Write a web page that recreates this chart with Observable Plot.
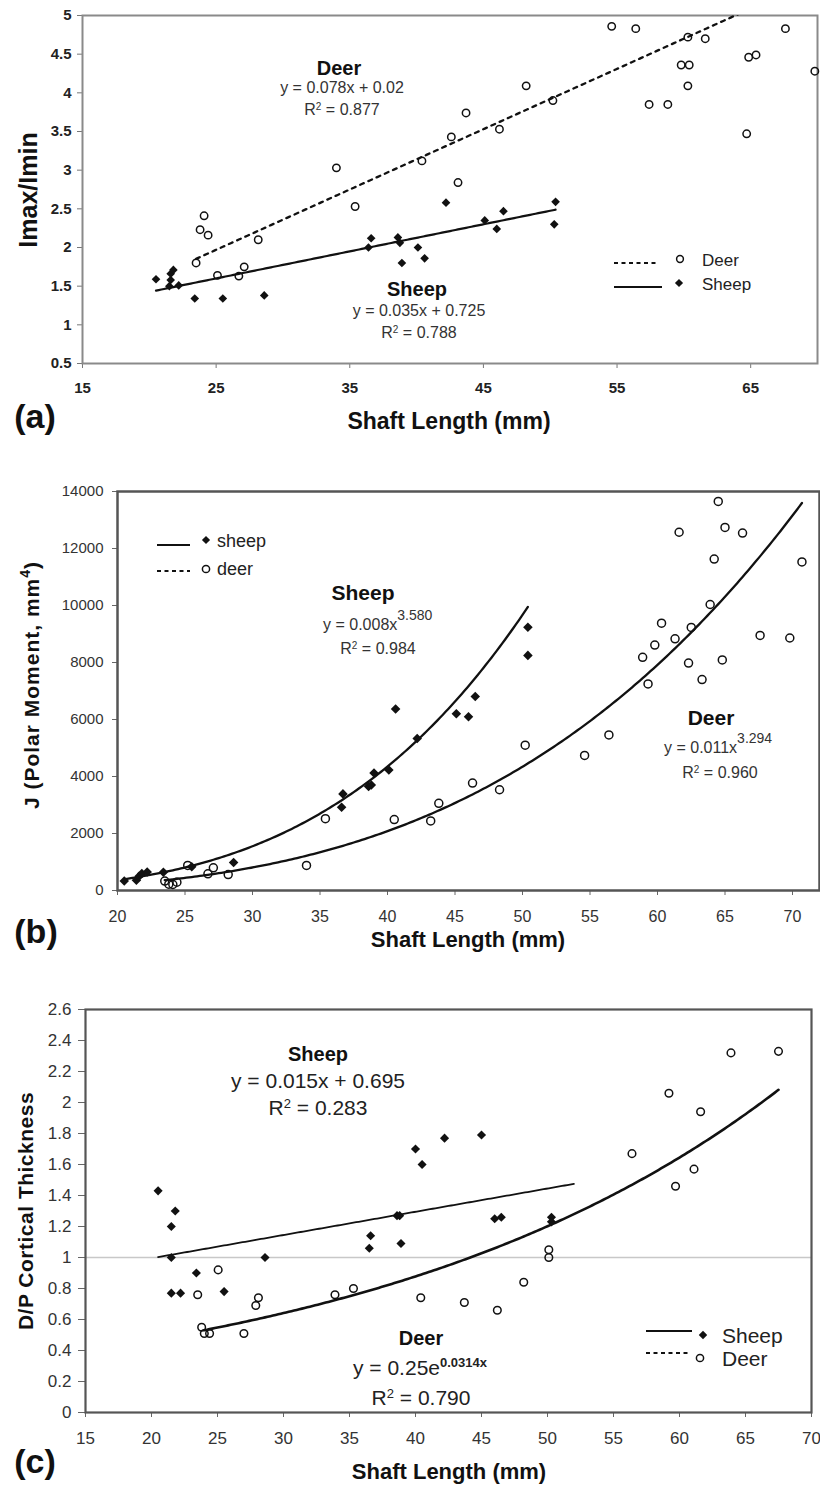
<!DOCTYPE html>
<html><head><meta charset="utf-8">
<script src="https://cdn.jsdelivr.net/npm/d3@7"></script>
<script src="https://cdn.jsdelivr.net/npm/@observablehq/plot@0.6"></script>
<style>
html,body{margin:0;padding:0;background:#fff;}
#fig{position:relative;width:820px;height:1486px;overflow:hidden;font-family:"Liberation Sans",Arial,Helvetica,sans-serif;color:#111;}
#fig svg{position:absolute;left:0;}
.t{position:absolute;white-space:nowrap;line-height:1;}
.sp{position:relative;}
</style></head><body><div id="fig"></div>
<script>
// ---------- Panel (a): Imax/Imin ----------
const deerA_x = [23.5,23.8,24.1,24.4,25.1,26.7,27.1,28.15,34.0,35.4,40.4,42.6,43.1,43.7,46.2,48.2,50.2,54.6,56.4,57.4,58.8,59.8,60.4,60.3,60.3,61.6,64.7,64.85,65.4,67.6,69.8];
const deerA_y = [1.80,2.23,2.41,2.16,1.64,1.63,1.75,2.10,3.03,2.53,3.12,3.43,2.84,3.74,3.53,4.09,3.90,4.86,4.83,3.85,3.85,4.36,4.36,4.72,4.09,4.70,3.47,4.46,4.49,4.83,4.28];
const sheepA_x = [20.5,21.5,21.6,21.6,21.8,22.2,23.4,25.5,28.6,36.4,36.6,38.6,38.75,38.9,40.1,40.6,42.2,45.1,46.0,46.5,50.4,50.3];
const sheepA_y = [1.59,1.50,1.58,1.66,1.71,1.51,1.34,1.34,1.38,2.00,2.12,2.13,2.06,1.80,2.00,1.86,2.58,2.35,2.24,2.47,2.59,2.30];
const fitA_deer = [0.078, 0.02];      // y = a x + b
const fitA_sheep = [0.035, 0.725];
const spanA_deer = [23.5, 69.8];
const spanA_sheep = [20.5, 50.4];
const xTicksA = [15,25,35,45,55,65];
const yTicksA = [0.5,1,1.5,2,2.5,3,3.5,4,4.5,5];

// ---------- Panel (b): J ----------
const deerB_x = [23.5,23.8,24.1,24.4,25.2,26.7,27.1,28.2,34.0,35.4,40.5,43.2,43.8,46.3,48.3,50.2,54.6,56.4,58.9,59.3,59.8,60.3,61.3,61.6,62.3,62.5,63.3,63.9,64.2,64.5,64.8,65.0,66.3,67.6,69.8,70.7];
const deerB_y = [330,220,210,290,880,585,795,560,880,2520,2490,2440,3060,3770,3535,5100,4740,5460,8180,7250,8610,9380,8830,12570,7980,9230,7400,10035,11630,13650,8090,12740,12540,8950,8860,11530];
const sheepB_x = [20.5,21.4,21.6,21.8,22.2,23.4,25.5,28.6,36.6,36.7,38.6,38.8,39.0,40.1,40.6,42.2,45.1,46.0,46.5,50.4,50.4];
const sheepB_y = [330,360,500,600,650,640,830,980,2920,3390,3650,3700,4120,4230,6370,5330,6200,6100,6810,9240,8250];
const fitB_sheep = [0.008, 3.580];    // y = a x^b
const fitB_deer = [0.011, 3.294];
const spanB_sheep = [20.5, 50.4];
const spanB_deer = [23.5, 70.7];
const xTicksB = [20,25,30,35,40,45,50,55,60,65,70];
const yTicksB = [0,2000,4000,6000,8000,10000,12000,14000];

// ---------- Panel (c): D/P cortical thickness ----------
const sheepC_x = [20.5,21.5,21.8,21.5,21.5,22.2,23.4,25.5,28.6,36.5,36.6,38.6,38.8,38.9,40.0,40.5,42.2,45.0,46.0,46.5,50.3,50.3];
const sheepC_y = [1.43,1.20,1.30,1.00,0.77,0.77,0.90,0.78,1.00,1.06,1.14,1.27,1.27,1.09,1.70,1.60,1.77,1.79,1.25,1.26,1.26,1.23];
const deerC_x = [23.5,23.8,24.0,24.4,25.05,27.0,27.9,28.1,33.9,35.3,40.4,43.7,46.2,48.2,50.1,50.1,56.4,59.2,59.7,61.1,61.6,63.9,67.5];
const deerC_y = [0.76,0.55,0.51,0.51,0.92,0.51,0.69,0.74,0.76,0.80,0.74,0.71,0.66,0.84,1.05,1.00,1.67,2.06,1.46,1.57,1.94,2.32,2.33];
const fitC_sheep = [0.015, 0.695];    // y = a x + b
const fitC_deer = [0.25, 0.0314];     // y = a e^(b x)
const spanC_sheep = [20.5, 52.0];
const spanC_deer = [24.0, 67.5];
const refC = [1];
const xTicksC = [15,20,25,30,35,40,45,50,55,60,65,70];
const yTicksC = [0,0.2,0.4,0.6,0.8,1,1.2,1.4,1.6,1.8,2,2.2,2.4,2.6];

// ---------- helpers ----------
const FONT = "'Liberation Sans', Arial, Helvetica, sans-serif";
const zip = (xs, ys) => xs.map((x, i) => ({x, y: ys[i]}));
const sample = (span, f) => {
  const xs = d3.range(span[0], span[1], 0.2).concat([span[1]]);
  return xs.map(x => ({x, y: f(x)}));
};
const linF = c => x => c[0] * x + c[1];
const powF = c => x => c[0] * Math.pow(x, c[1]);
const expF = c => x => c[0] * Math.exp(c[1] * x);
const fig = document.getElementById("fig");
function place(svg, top) { svg.style.top = top + "px"; fig.appendChild(svg); }
function txt(html, x, y, o = {}) {
  const d = document.createElement("div");
  d.className = "t";
  d.innerHTML = html;
  const size = o.size || 16;
  d.style.left = x + "px";
  d.style.top = y + "px";
  d.style.fontSize = size + "px";
  d.style.fontWeight = o.bold ? "bold" : "normal";
  d.style.color = o.color || "#222";
  if (o.ls) d.style.letterSpacing = o.ls + "px";
  const tx = o.anchor === "start" ? "0" : o.anchor === "end" ? "-100%" : "-50%";
  d.style.transform = `translate(${tx},-50%)` + (o.rotate ? " rotate(-90deg)" : "");
  fig.appendChild(d);
}
const sup = (s, size, up, bold) => `<span class="sp" style="font-size:${size}px;top:-${up}px;${bold ? "font-weight:bold;" : ""}">${s}</span>`;

const dotOpen = (data, r) => Plot.dot(data, {x: "x", y: "y", r, stroke: "#111", strokeWidth: 1.5, fill: "none"});
const dotDiamond = (data, r) => Plot.dot(data, {x: "x", y: "y", r, symbol: "diamond2", fill: "#111", stroke: "none"});

// ---------- Panel (a) ----------
const plotA = Plot.plot({
  width: 820, height: 400,
  marginTop: 15, marginBottom: 37, marginLeft: 82, marginRight: 3,
  x: {domain: [15, 70]}, y: {domain: [0.5, 5]},
  style: {background: "transparent", fontFamily: FONT, color: "#222", overflow: "visible"},
  marks: [
    Plot.axisX({ticks: xTicksA, tickSize: 5, tickPadding: 14, fontSize: 15, fontWeight: "bold", label: null, stroke: "#777", fill: "#222"}),
    Plot.axisY({ticks: yTicksA, tickSize: 5, tickPadding: 6, fontSize: 15, fontWeight: "bold", label: null, stroke: "#777", fill: "#222", tickFormat: d => String(d)}),
    Plot.frame({stroke: "#8a8a8a", strokeWidth: 2}),
    Plot.line(sample(spanA_deer, linF(fitA_deer)), {x: "x", y: "y", stroke: "#111", strokeWidth: 2.3, strokeDasharray: "4,5", clip: true}),
    Plot.line(sample(spanA_sheep, linF(fitA_sheep)), {x: "x", y: "y", stroke: "#111", strokeWidth: 2.2}),
    dotOpen(zip(deerA_x, deerA_y), 3.7),
    dotDiamond(zip(sheepA_x, sheepA_y), 3.9)
  ]
});
place(plotA, 0);

// ---------- Panel (b) ----------
const plotB = Plot.plot({
  width: 820, height: 470,
  marginTop: 21, marginBottom: 50, marginLeft: 117, marginRight: 1,
  x: {domain: [20, 72]}, y: {domain: [0, 14000]},
  style: {background: "transparent", fontFamily: FONT, color: "#222", overflow: "visible"},
  marks: [
    Plot.axisX({ticks: xTicksB, tickSize: 5, tickPadding: 15, fontSize: 16, label: null, stroke: "#666", fill: "#333"}),
    Plot.axisY({ticks: yTicksB, tickSize: 5, tickPadding: 9, fontSize: 15, label: null, stroke: "#666", fill: "#333", tickFormat: d => String(d)}),
    Plot.frame({stroke: "#555", strokeWidth: 2.5}),
    Plot.line(sample(spanB_sheep, powF(fitB_sheep)), {x: "x", y: "y", stroke: "#111", strokeWidth: 2.3}),
    Plot.line(sample(spanB_deer, powF(fitB_deer)), {x: "x", y: "y", stroke: "#111", strokeWidth: 2.3}),
    dotOpen(zip(deerB_x, deerB_y), 4),
    dotDiamond(zip(sheepB_x, sheepB_y), 4.3)
  ]
});
place(plotB, 470);

// ---------- Panel (c) ----------
const plotC = Plot.plot({
  width: 820, height: 470,
  marginTop: 19, marginBottom: 48, marginLeft: 85, marginRight: 9,
  x: {domain: [15, 70]}, y: {domain: [0, 2.6]},
  style: {background: "transparent", fontFamily: FONT, color: "#222", overflow: "visible"},
  marks: [
    Plot.ruleY(refC, {stroke: "#c8c8c8", strokeWidth: 1.5}),
    Plot.axisX({ticks: xTicksC, tickSize: 5, tickPadding: 14, fontSize: 17, label: null, stroke: "#666", fill: "#333"}),
    Plot.axisY({ticks: yTicksC, tickSize: 7, tickPadding: 7, fontSize: 17, label: null, stroke: "#666", fill: "#333", tickFormat: d => String(d)}),
    Plot.frame({stroke: "#555", strokeWidth: 2.2}),
    Plot.line(sample(spanC_sheep, linF(fitC_sheep)), {x: "x", y: "y", stroke: "#111", strokeWidth: 1.8}),
    Plot.line(sample(spanC_deer, expF(fitC_deer)), {x: "x", y: "y", stroke: "#111", strokeWidth: 2.6}),
    dotOpen(zip(deerC_x, deerC_y), 3.8),
    dotDiamond(zip(sheepC_x, sheepC_y), 4.1)
  ]
});
place(plotC, 990);

// ---------- Legends (overlay swatches) ----------
const ov = d3.select(fig).append("svg").attr("width", 820).attr("height", 1486).style("top", "0px").style("pointer-events", "none");
function swatch(x1, x2, yl, sx, sy, dashed, kind, r) {
  ov.append("line").attr("x1", x1).attr("x2", x2).attr("y1", yl).attr("y2", yl)
    .attr("stroke", "#111").attr("stroke-width", 2).attr("stroke-dasharray", dashed ? "4,3.5" : null);
  if (kind === "circle") ov.append("circle").attr("cx", sx).attr("cy", sy).attr("r", r).attr("fill", "none").attr("stroke", "#111").attr("stroke-width", 1.5);
  else ov.append("path").attr("d", d3.symbol(d3.symbolDiamond2, Math.PI * r * r)()).attr("transform", `translate(${sx},${sy})`).attr("fill", "#111");
}
swatch(614, 658, 263, 680, 259, true, "circle", 3.4);
swatch(614, 662, 287, 679, 283, false, "diamond", 3.7);
txt("Deer", 702, 260, {size: 17, anchor: "start"});
txt("Sheep", 702, 284, {size: 17, anchor: "start"});

swatch(157, 190, 545, 206, 540, false, "diamond", 3.7);
swatch(157, 190, 571, 206, 569, true, "circle", 3.6);
txt("sheep", 217, 541, {size: 18, anchor: "start"});
txt("deer", 217, 569, {size: 18, anchor: "start"});

swatch(646, 692, 1331, 703, 1335, false, "diamond", 3.8);
swatch(646, 690, 1353, 700, 1358, true, "circle", 3.6);
txt("Sheep", 722, 1335, {size: 21, anchor: "start"});
txt("Deer", 722, 1358, {size: 21, anchor: "start"});

// ---------- Annotations ----------
txt("Deer", 339, 68, {size: 20, bold: true, color: "#111"});
txt("y = 0.078x + 0.02", 342, 88, {size: 16, color: "#333"});
txt("R" + sup("2", 10, 5) + " = 0.877", 342, 110, {size: 16, color: "#333"});
txt("Sheep", 417, 289, {size: 20, bold: true, color: "#111"});
txt("y = 0.035x + 0.725", 419, 311, {size: 16, color: "#333"});
txt("R" + sup("2", 10, 5) + " = 0.788", 419, 333, {size: 16, color: "#333"});

txt("Sheep", 363, 592, {size: 21, bold: true, color: "#111"});
txt("y = 0.008x" + sup("3.580", 14, 10), 323, 625, {size: 16, anchor: "start", color: "#333"});
txt("R" + sup("2", 10, 5) + " = 0.984", 378, 649, {size: 16, color: "#333"});
txt("Deer", 711, 717, {size: 21, bold: true, color: "#111"});
txt("y = 0.011x" + sup("3.294", 14, 10), 664, 748, {size: 16, anchor: "start", color: "#333"});
txt("R" + sup("2", 10, 5) + " = 0.960", 720, 773, {size: 16, color: "#333"});

txt("Sheep", 318, 1054, {size: 20, bold: true, color: "#111"});
txt("y = 0.015x + 0.695", 318, 1080, {size: 21, color: "#222"});
txt("R" + sup("2", 13, 7) + " = 0.283", 318, 1107, {size: 21, color: "#222"});
txt("Deer", 421, 1338, {size: 20, bold: true, color: "#111"});
txt("y = 0.25e" + sup("0.0314x", 13, 8, true), 353, 1367, {size: 21, anchor: "start", color: "#222"});
txt("R" + sup("2", 13, 7) + " = 0.790", 421, 1397, {size: 21, color: "#222"});

// ---------- Axis titles & panel letters ----------
txt("Imax/Imin", 28, 190, {size: 25, bold: true, rotate: true, color: "#111"});
txt("Shaft Length (mm)", 449, 421, {size: 23, bold: true, color: "#111"});
txt("(a)", 35, 416, {size: 34, bold: true, color: "#111"});

txt("J (Polar Moment, mm" + sup("4", 14, 9, true) + ")", 31, 685, {size: 21, bold: true, rotate: true, color: "#111", ls: 1});
txt("Shaft Length (mm)", 468, 940, {size: 22, bold: true, color: "#111"});
txt("(b)", 36, 931, {size: 34, bold: true, color: "#111"});

txt("D/P Cortical Thickness", 25, 1211, {size: 21, bold: true, rotate: true, color: "#111", ls: 0.5});
txt("Shaft Length (mm)", 449, 1472, {size: 22, bold: true, color: "#111"});
txt("(c)", 35, 1461, {size: 34, bold: true, color: "#111"});
</script></body></html>
